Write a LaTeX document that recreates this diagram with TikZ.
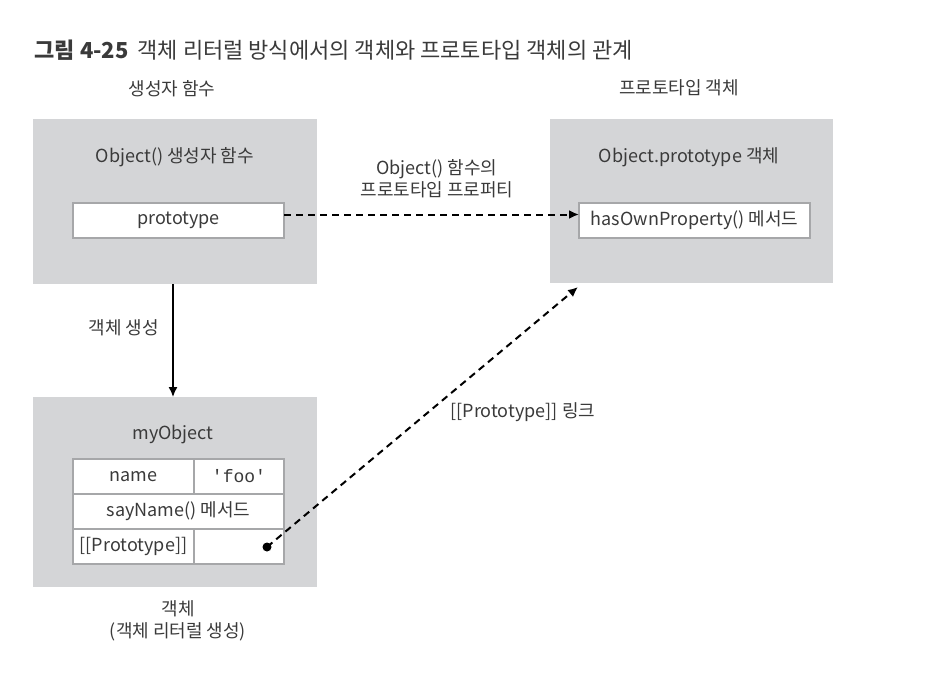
\documentclass[tikz,border=0pt]{standalone}
\usepackage{fontspec}
\setmainfont{Noto Sans CJK KR}
\setmonofont{Liberation Mono}
\usetikzlibrary{arrows.meta}

\definecolor{boxgray}{HTML}{D4D5D7}
\definecolor{linegray}{HTML}{A6A7A9}
\definecolor{textgray}{HTML}{3A3A3A}

\tikzset{
    bodyfont/.style = {font = \fontsize{18}{23}\selectfont},
    panel/.style = {fill = boxgray, inner sep = 0, outer sep = 0, anchor = north west},
    field/.style = {draw = linegray, line width = 2.5pt, fill = white, inner sep = 0, outer sep = 0},
    link/.style = {line width = 2pt, dash pattern = on 7pt off 5pt, -{Latex[length = 10pt, width = 9pt]}}
}

\begin{document}
\begin{tikzpicture}[x = 1pt, y = -1pt, every node/.style = {text = textgray, bodyfont}]

    \useasboundingbox (0, 0) rectangle (932, 675);

    % Figure caption.
    \node[anchor = west, font = \fontsize{22}{26}\selectfont] (caption) at (31, 50)
        {\textbf{그림 4-25}\hspace{9pt}객체 리터럴 방식에서의 객체와 프로토타입 객체의 관계};

    % Gray panels.
    \node[panel, minimum width = 284pt, minimum height = 165pt] (ctor) at (33, 119) {};
    \node[panel, minimum width = 283pt, minimum height = 164pt] (protoobj) at (550, 119) {};
    \node[panel, minimum width = 284pt, minimum height = 190pt] (myobj) at (33, 397) {};

    % Headings above and below the panels.
    \node (ctorhead) at (172, 89) {생성자 함수};
    \node (protohead) at (679, 88) {프로토타입 객체};
    \node[align = center, font = \fontsize{18}{22}\selectfont] (objfoot) at (178, 621) {객체\\(객체 리터럴 생성)};

    % Titles inside the panels.
    \node (ctortitle) at (175, 157) {Object() 생성자 함수};
    \node (prototitle) at (689, 157) {Object.prototype 객체};
    \node (objtitle) at (173, 435) {myObject};

    % White fields.
    \node[field, minimum width = 211pt, minimum height = 35pt] (protofield) at (178.5, 220.5) {prototype};
    \node[field, minimum width = 231pt, minimum height = 35pt] (hasown) at (694.5, 220.5) {hasOwnProperty() 메서드};

    % Property table of myObject.
    \begin{scope}[every node/.append style = {field, minimum height = 35pt}]
        \node[minimum width = 121pt] (namekey) at (133.5, 476.5) {name};
        \node[minimum width = 90pt] (nameval) at (239, 476.5) {\texttt{'foo'}};
        \node[minimum width = 211pt] (saymethod) at (178.5, 511.5) {sayName() 메서드};
        \node[minimum width = 121pt] (linkkey) at (133.5, 546.5) {[[Prototype]]};
        \node[minimum width = 90pt] (linkval) at (239, 546.5) {};
    \end{scope}

    % Connectors.
    \coordinate (dot) at (267, 547);
    \coordinate (linktip) at (578, 287);
    \fill (dot) circle (4.5pt);

    \draw[line width = 1.5pt, -{Latex[length = 10pt, width = 9pt]}] (ctor.south -| objtitle) -- (myobj.north -| objtitle);
    \draw[link] ([yshift = 6pt]protofield.east) -- ([yshift = 6pt]hasown.west);
    \draw[link] (dot) -- (linktip);

    % Connector labels.
    \node[align = center, font = \fontsize{18}{22}\selectfont] (funclabel) at (437, 179) {Object() 함수의\\프로토타입 프로퍼티};
    \node (newlabel) at (124, 328) {객체 생성};
    \node[anchor = west] (linklabel) at (447, 412) {[[Prototype]] 링크};

\end{tikzpicture}
\end{document}
